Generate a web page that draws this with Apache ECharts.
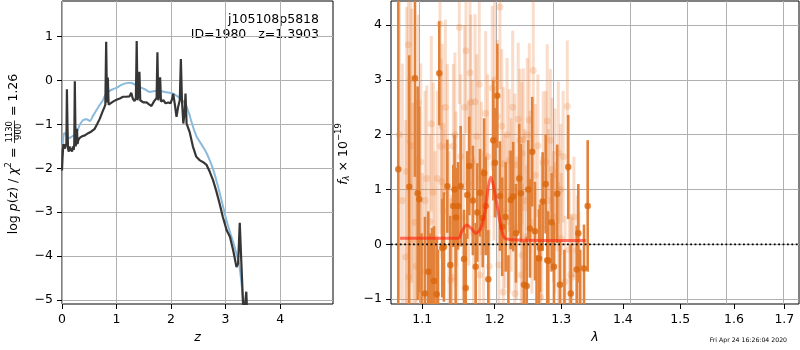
<!DOCTYPE html>
<html><head><meta charset="utf-8">
<script src="https://cdn.jsdelivr.net/npm/echarts@6/dist/echarts.min.js"></script>
<style>html,body{margin:0;padding:0;background:#fff}#c{width:800px;height:350px}</style>
</head><body><div id="c"></div>
<script>
// ---------- Left panel: log p(z) and chi2 curves ----------
const pzZ = [0.00,0.01,0.025,0.04,0.055,0.07,0.08,0.09,0.10,0.11,0.125,0.14,0.155,0.17,0.185,0.20,0.215,0.225,0.235,0.25,0.265,0.275,0.285,0.30,0.33,0.37,0.42,0.48,0.54,0.60,0.65,0.69,0.74,0.78,0.795,0.81,0.825,0.84,0.855,0.88,0.95,1.00,1.06,1.12,1.18,1.24,1.27,1.30,1.33,1.355,1.37,1.385,1.405,1.42,1.435,1.49,1.55,1.59,1.64,1.69,1.735,1.75,1.765,1.785,1.80,1.815,1.86,1.90,1.95,1.99,2.02,2.04,2.07,2.10,2.13,2.16,2.18,2.20,2.225,2.25,2.265,2.285,2.34,2.40,2.46,2.53,2.59,2.65,2.71,2.77,2.83,2.89,2.95,3.02,3.08,3.14,3.20,3.23,3.26,3.29,3.32,3.34,3.365,3.38,3.395,3.42];
const pzLog = [-2.05,-1.75,-1.45,-1.42,-1.55,-1.45,-1.5,-0.2,-1.0,-1.55,-1.62,-1.5,-1.6,-1.55,-1.62,-1.5,-1.58,-1.45,-0.02,-1.5,-1.4,-1.1,-1.45,-1.35,-1.3,-1.27,-1.25,-1.2,-1.16,-1.1,-0.98,-0.88,-0.72,-0.6,-0.55,0.88,-0.5,0.07,-0.55,-0.52,-0.47,-0.44,-0.41,-0.37,-0.37,-0.36,-0.28,-0.42,-0.47,-0.4,0.9,-0.45,-0.3,0.2,-0.45,-0.5,-0.5,-0.54,-0.58,-0.47,-0.4,0.64,-0.45,-0.3,0.07,-0.48,-0.45,-0.52,-0.5,-0.52,-0.42,-0.3,-0.55,-0.83,-0.6,-0.45,0.49,-0.45,-0.98,-0.7,-0.3,-0.98,-1.17,-1.5,-1.73,-1.82,-1.86,-1.92,-2.08,-2.27,-2.52,-2.8,-3.11,-3.41,-3.56,-3.87,-4.25,-4.17,-3.24,-4.17,-5.08,-5.3,-5.3,-4.81,-5.3,-5.5];
const chiZ = [0.00,0.02,0.04,0.07,0.11,0.18,0.26,0.33,0.39,0.45,0.51,0.57,0.63,0.69,0.75,0.80,0.86,0.93,1.00,1.09,1.18,1.25,1.32,1.43,1.52,1.61,1.70,1.79,1.88,1.97,2.07,2.16,2.23,2.28,2.33,2.37,2.42,2.47,2.53,2.59,2.65,2.71,2.77,2.83,2.89,2.95,3.02,3.08,3.14,3.20,3.25,3.29,3.32,3.35];
const chiLog = [-1.55,-1.36,-1.2,-1.22,-1.32,-1.28,-1.2,-1.0,-0.9,-0.88,-0.92,-0.8,-0.68,-0.56,-0.45,-0.32,-0.25,-0.2,-0.17,-0.1,-0.06,-0.05,-0.08,-0.15,-0.2,-0.26,-0.24,-0.24,-0.26,-0.28,-0.32,-0.4,-0.48,-0.58,-0.75,-0.92,-1.12,-1.28,-1.4,-1.52,-1.65,-1.82,-2.02,-2.27,-2.55,-2.85,-3.2,-3.45,-3.68,-3.95,-4.2,-4.6,-5.0,-5.4];
const zTicks = [0,1,2,3,4];
const logpTicks = [-5,-4,-3,-2,-1,0,1];

// ---------- Right panel: spectrum ----------
const darkLam  = [1.0687,1.0829,1.0904,1.0939,1.0960,1.0990,1.1036,1.1080,1.1105,1.1130,1.1156,1.1192,1.1210,1.1227,1.1267,1.1290,1.1336,1.1377,1.1418,1.1435,1.1450,1.1455,1.1483,1.1520,1.1566,1.1590,1.1612,1.1640,1.1690,1.1729,1.1752,1.1790,1.1829,1.1850,1.1871,1.1909,1.1980,1.2005,1.2038,1.2077,1.2110,1.2160,1.2200,1.2233,1.2271,1.2311,1.2360,1.2385,1.2430,1.2471,1.2495,1.2521,1.2555,1.2596,1.2620,1.2657,1.2672,1.2713,1.2760,1.2783,1.2800,1.2851,1.2887,1.2938,1.2980,1.3050,1.3110,1.3150,1.3244,1.3270,1.3300,1.3361,1.3420];
const darkFlux = [1.37,1.05,3.03,0.93,0.82,-1.3,-0.9,-0.5,-1.2,-1.5,-0.67,-0.91,-1.4,3.12,-0.07,-0.05,1.06,-0.38,0.70,1.0,-1.2,0.49,0.70,1.06,-0.27,-0.8,0.90,1.43,0.8,-0.41,0.58,0.94,0.48,1.3,0.70,-0.64,1.9,1.49,2.71,0.88,0.32,0.5,-1.3,0.81,0.87,0.20,1.20,0.93,-0.74,-0.76,1.0,0.29,1.69,0.24,-1.4,-0.26,-0.07,0.78,1.1,-0.29,-0.30,0.40,-0.41,0.92,-0.74,-1.3,1.41,-0.9,-0.46,0.2,-1.4,-0.44,0.70];
const darkErr  = [4.0,2.4,1.8,1.95,1.7,1.5,1.4,1.1,1.4,1.8,1.0,1.0,1.3,0.95,0.9,1.0,0.85,0.9,0.75,1.0,1.3,0.9,0.8,1.1,0.9,1.0,0.8,0.9,1.0,0.8,0.9,0.8,0.9,1.0,0.9,0.9,1.1,1.0,0.95,1.0,0.9,1.0,1.1,0.9,1.0,0.9,1.0,0.9,0.8,0.9,0.9,0.9,1.0,0.9,1.2,0.9,0.8,0.9,0.9,0.9,0.9,0.9,0.8,0.9,0.8,1.2,0.95,0.9,0.8,0.9,1.3,0.8,1.2];
const lightLam  = [1.0700,1.0740,1.0783,1.0796,1.0816,1.0820,1.0848,1.0860,1.0874,1.0904,1.0920,1.0947,1.0980,1.1000,1.1036,1.1060,1.1102,1.1120,1.1146,1.1170,1.1200,1.1237,1.1250,1.1260,1.1267,1.1290,1.1310,1.1336,1.1360,1.1386,1.1400,1.1418,1.1440,1.1455,1.1470,1.1500,1.1520,1.1555,1.1575,1.1593,1.1630,1.1649,1.1660,1.1680,1.1700,1.1720,1.1744,1.1780,1.1785,1.1810,1.1840,1.1871,1.1900,1.1920,1.1966,1.1990,1.2000,1.2038,1.2060,1.2077,1.2102,1.2125,1.2125,1.2150,1.2180,1.2213,1.2213,1.2240,1.2263,1.2296,1.2296,1.2320,1.2345,1.2370,1.2390,1.2400,1.2405,1.2420,1.2440,1.2471,1.2480,1.2510,1.2521,1.2550,1.2570,1.2600,1.2640,1.2680,1.2700,1.2722,1.2763,1.2783,1.2800,1.2830,1.2860,1.2880,1.2900,1.2902,1.2954,1.2960,1.2990,1.3000,1.3030,1.3060,1.3095,1.3126,1.3150,1.3170,1.3200,1.3254,1.3280];
const lightFlux = [2.0,0.8,-0.23,1.33,3.64,-0.6,3.01,1.8,0.08,0.40,-0.4,2.59,1.5,-0.5,0.80,1.2,0.41,2.2,0.95,0.1,1.2,4.02,1.79,1.14,2.16,0.6,2.5,1.79,0.2,-0.66,-0.60,1.79,2.0,0.82,0.0,3.96,1.6,0.5,2.5,3.53,1.11,3.13,2.59,1.5,0.2,2.6,1.97,2.92,-0.56,1.2,0.3,2.39,1.6,-0.4,2.85,1.47,3.0,2.33,-0.38,4.33,2.16,1.47,-0.87,0.6,2.0,1.53,0.41,0.9,2.50,1.45,-0.90,0.3,2.28,1.90,-0.56,1.66,-0.20,1.91,0.8,0.14,2.0,2.27,1.14,0.4,3.17,1.26,1.8,-0.97,0.3,1.49,1.50,2.25,0.8,1.9,1.37,0.5,0.30,1.28,1.67,-0.07,1.0,0.10,1.6,-0.68,2.52,-0.10,-0.55,-0.60,0.5,-0.11,-0.4];
const lightErr  = [3.0,2.5,2.5,3.0,1.8,2.5,2.0,2.5,2.5,2.2,2.0,1.6,1.8,1.8,2.0,1.7,1.6,1.6,2.0,1.6,1.6,1.5,1.6,1.4,1.5,1.5,1.6,1.5,1.5,1.5,1.5,1.5,1.5,1.6,1.4,1.4,1.5,1.5,1.5,1.5,1.5,1.5,1.6,1.5,1.4,1.6,1.5,1.5,1.4,1.4,1.4,1.5,1.5,1.4,1.5,1.4,1.5,1.4,1.4,1.5,1.4,1.4,1.4,1.4,1.4,1.3,1.3,1.4,1.4,1.3,1.3,1.3,1.4,1.3,1.3,1.3,1.3,1.3,1.3,1.3,1.4,1.4,1.3,1.3,1.5,1.3,1.3,1.2,1.3,1.3,1.3,1.4,1.3,1.3,1.3,1.2,1.2,1.2,1.3,1.2,1.2,1.2,1.2,1.2,1.2,1.1,1.1,1.1,1.1,1.0,1.0];
const modelLam  = [1.071,1.1487,1.1534,1.1603,1.1667,1.1734,1.180,1.1861,1.1909,1.1943,1.1991,1.2038,1.2102,1.215,1.2322,1.339];
const modelFlux = [0.11,0.11,0.23,0.35,0.29,0.20,0.29,0.60,1.05,1.23,1.02,0.69,0.26,0.11,0.08,0.07];
const lamTicks  = [1.1,1.2,1.3,1.4,1.5,1.6,1.7];
const fluxTicks = [-1,0,1,2,3,4];
const lamRange  = [1.0594,1.7302];

const L = Math.log10;
const fmtNum = v => (v < 0 ? '\u2212' + Math.abs(v) : String(v));
const zip = (a, b) => a.map((v, i) => [v, b[i]]);
const zipLog = (a, b, c) => a.map((v, i) => c ? [L(v), b[i], c[i]] : [L(v), b[i]]);

const FONT = 'DejaVu Sans';
const tickFont = 12.5;
const GRID_COLOR = '#b0b0b0';

function valueAxis(gridIndex, min, max, ticks, fmt, extra) {
  return Object.assign({
    type: 'value', gridIndex, min, max,
    axisLine: { show: false, onZero: false },
    axisTick: { show: true, inside: false, length: 5, customValues: ticks, lineStyle: { color: '#000', width: 1 } },
    axisLabel: { customValues: ticks, formatter: fmt, color: '#000', fontFamily: FONT, fontSize: tickFont, margin: 9 },
    splitLine: { show: false }
  }, extra || {});
}

function gridLines(xi, yi, xs, ys) {
  return {
    type: 'line', xAxisIndex: xi, yAxisIndex: yi, data: [], silent: true, z: 1,
    markLine: {
      silent: true, symbol: ['none', 'none'], z: 1, animation: false,
      label: { show: false },
      lineStyle: { color: GRID_COLOR, width: 1, type: 'solid' },
      emphasis: { disabled: true },
      data: xs.map(v => ({ xAxis: v })).concat(ys.map(v => ({ yAxis: v })))
    }
  };
}

function errRender(color, width) {
  return function (params, api) {
    const x = api.value(0), y = api.value(1), e = api.value(2);
    const p1 = api.coord([x, y - e]);
    const p2 = api.coord([x, y + e]);
    return { type: 'line', shape: { x1: p1[0], y1: p1[1], x2: p2[0], y2: p2[1] },
             style: { stroke: color, lineWidth: width } };
  };
}

// --- rotated label builder (measured with canvas) ---
const mctx = document.createElement('canvas').getContext('2d');
function tw(str, size, italic) { mctx.font = (italic ? 'italic ' : '') + size + 'px "' + FONT + '"'; return mctx.measureText(str).width; }
function buildRotLabel(cx, cy, parts) {
  let total = 0;
  parts.forEach(p => { p.w = p.frac ? Math.max(tw(p.frac[0], p.size), tw(p.frac[1], p.size)) + 2 : tw(p.t, p.size, p.italic); total += p.w; });
  const children = [];
  let x = 0;
  parts.forEach(p => {
    if (p.frac) {
      children.push({ type: 'text', x: x + p.w / 2, y: -4.5, style: { text: p.frac[0], font: p.size + 'px "' + FONT + '"', fill: '#000', align: 'center', verticalAlign: 'middle' } });
      children.push({ type: 'text', x: x + p.w / 2, y: 5, style: { text: p.frac[1], font: p.size + 'px "' + FONT + '"', fill: '#000', align: 'center', verticalAlign: 'middle' } });
      children.push({ type: 'line', shape: { x1: x + 0.5, y1: 0.5, x2: x + p.w - 0.5, y2: 0.5 }, style: { stroke: '#000', lineWidth: 0.8 } });
    } else {
      children.push({ type: 'text', x: x, y: p.dy || 0, style: { text: p.t, font: (p.italic ? 'italic ' : '') + p.size + 'px "' + FONT + '"', fill: '#000', align: 'left', verticalAlign: 'middle' } });
    }
    x += p.w;
  });
  return { type: 'group', x: cx, y: cy + total / 2, rotation: Math.PI / 2, children, silent: true };
}

const leftLabel = buildRotLabel(14, 154, [
  { t: 'log ', size: 12.5 }, { t: 'p', size: 12.5, italic: true }, { t: '(', size: 12.5 }, { t: 'z', size: 12.5, italic: true },
  { t: ') / ', size: 12.5 }, { t: '\u03c7', size: 12.5, italic: true }, { t: '2', size: 8.5, dy: -5 }, { t: ' = ', size: 12.5 },
  { frac: ['1130', '900'], size: 8.5 }, { t: ' = 1.26', size: 12.5 }
]);
const rightLabel = buildRotLabel(344, 154, [
  { t: 'f', size: 12.5, italic: true }, { t: '\u03bb', size: 8.5, italic: true, dy: 3 }, { t: ' \u00d7 10', size: 12.5 }, { t: '\u221219', size: 8.5, dy: -5 }
]);

const chart = echarts.init(document.getElementById('c'), null, { renderer: 'canvas' });
chart.setOption({
  animation: false,
  backgroundColor: '#fff',
  grid: [
    { left: 62, top: 1, width: 271, height: 303, show: true, borderColor: '#000', borderWidth: 1, backgroundColor: 'transparent', containLabel: false },
    { left: 391, top: 1, width: 408, height: 303, show: true, borderColor: '#000', borderWidth: 1, backgroundColor: 'transparent', containLabel: false }
  ],
  xAxis: [
    valueAxis(0, 0, 4.97, zTicks, fmtNum, { name: 'z', nameLocation: 'middle', nameGap: 27, nameTextStyle: { fontFamily: FONT, fontSize: 12.5, fontStyle: 'italic', color: '#000' } }),
    valueAxis(1, L(lamRange[0]), L(lamRange[1]), lamTicks.map(L), v => Math.pow(10, v).toFixed(1),
      { name: '\u03bb', nameLocation: 'middle', nameGap: 27, nameTextStyle: { fontFamily: FONT, fontSize: 12.5, fontStyle: 'italic', color: '#000' } })
  ],
  yAxis: [
    valueAxis(0, -5.09, 1.81, logpTicks, fmtNum),
    valueAxis(1, -1.09, 4.44, fluxTicks, fmtNum)
  ],
  graphic: [
    leftLabel, rightLabel,
    { type: 'text', x: 319, y: 20, silent: true, style: { text: 'j105108p5818', font: '12.5px "' + FONT + '"', fill: '#000', align: 'right', verticalAlign: 'middle' } },
    { type: 'text', x: 319, y: 35, silent: true, style: { text: 'ID=1980   z=1.3903', font: '12.5px "' + FONT + '"', fill: '#000', align: 'right', verticalAlign: 'middle' } },
    { type: 'text', x: 787, y: 340, silent: true, style: { text: 'Fri Apr 24 16:26:04 2020', font: '6.2px "' + FONT + '"', fill: '#000', align: 'right', verticalAlign: 'middle' } }
  ],
  series: [
    gridLines(0, 0, zTicks, logpTicks),
    gridLines(1, 1, lamTicks.map(L), fluxTicks),
    { type: 'line', xAxisIndex: 0, yAxisIndex: 0, data: zip(chiZ, chiLog), showSymbol: false, symbol: 'none', smooth: 0.3,
      lineStyle: { color: '#8bbadc', width: 2 }, z: 2, silent: true },
    { type: 'line', xAxisIndex: 0, yAxisIndex: 0, data: zip(pzZ, pzLog), showSymbol: false, symbol: 'none',
      lineStyle: { color: '#363636', width: 2.2 }, z: 3, silent: true },
    { type: 'custom', xAxisIndex: 1, yAxisIndex: 1, data: zipLog(lightLam, lightFlux, lightErr), clip: true,
      encode: { x: 0, y: 1 }, renderItem: errRender('rgba(235,130,60,0.28)', 3), z: 2, silent: true },
    { type: 'scatter', xAxisIndex: 1, yAxisIndex: 1, data: zipLog(lightLam, lightFlux), symbolSize: 7,
      itemStyle: { color: 'rgba(235,130,60,0.3)' }, z: 2, silent: true },
    { type: 'custom', xAxisIndex: 1, yAxisIndex: 1, data: zipLog(darkLam, darkFlux, darkErr), clip: true,
      encode: { x: 0, y: 1 }, renderItem: errRender('#e2823a', 2.6), z: 3, silent: true },
    { type: 'scatter', xAxisIndex: 1, yAxisIndex: 1, data: zipLog(darkLam, darkFlux), symbolSize: 6.5,
      itemStyle: { color: '#d9660d' }, z: 4, silent: true },
    { type: 'line', xAxisIndex: 1, yAxisIndex: 1, data: zipLog(modelLam, modelFlux), showSymbol: false, symbol: 'none', smooth: 0.3,
      lineStyle: { color: 'rgba(255,30,10,0.6)', width: 3 }, z: 5, silent: true },
    { type: 'line', xAxisIndex: 1, yAxisIndex: 1, data: [[L(lamRange[0]), 0], [L(lamRange[1]), 0]], showSymbol: false, symbol: 'none',
      lineStyle: { color: '#000', width: 1.8, type: [1.8, 2.6] }, z: 6, silent: true }
  ]
});
</script></body></html>
